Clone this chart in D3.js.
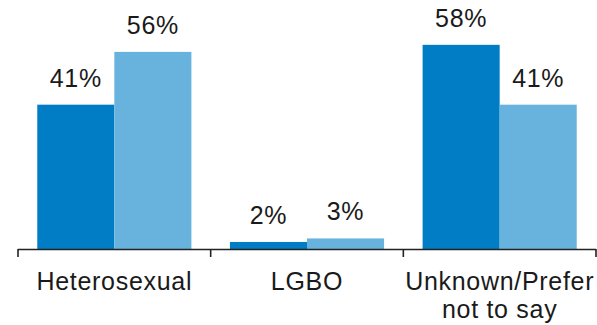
<!DOCTYPE html>
<html>
<head>
<meta charset="utf-8">
<script src="https://cdn.jsdelivr.net/npm/d3@7"></script>
<style>
   body { margin: 0; background: #fff; }
   text { font-family: "Liberation Sans", Arial, sans-serif; fill: #1a1a1a; }
</style>
</head>
<body>
<div id="chartDiv"></div>
<script>
//----------------------------------------------------------------------------------------------------
var categories = [["Heterosexual"], ["LGBO"], ["Unknown/Prefer", "not to say"]];
var seriesNames = ["dark", "light"];
var darkValues  = [41, 2, 58];
var lightValues = [56, 3, 41];
var seriesColors = ["#017DC6", "#67B3DE"];
//----------------------------------------------------------------------------------------------------
function drawChart()
{
   var width = 597, height = 325;
   var axisY = 249;
   var left = 18, right = 596;

   var svg = d3.select("#chartDiv")
      .append("svg")
      .attr("width", width)
      .attr("height", height);

   var keys = categories.map(function(c){ return c.join(" "); });

   var xScale = d3.scaleBand()
      .domain(keys)
      .range([left, right])
      .paddingInner(0.2)
      .paddingOuter(0.1);

   var xInner = d3.scaleBand()
      .domain(seriesNames)
      .range([0, xScale.bandwidth()]);

   var yScale = d3.scaleLinear()
      .domain([0, 100])
      .range([axisY, axisY - 352]);

   var data = [];
   for(var i=0; i < keys.length; i++){
      data.push({cat: keys[i], series: "dark", value: darkValues[i]});
      data.push({cat: keys[i], series: "light", value: lightValues[i]});
      }

   var color = d3.scaleOrdinal().domain(seriesNames).range(seriesColors);

   svg.selectAll("rect.bar")
      .data(data)
      .enter()
      .append("rect")
      .attr("class", "bar")
      .attr("x", function(d){ return xScale(d.cat) + xInner(d.series); })
      .attr("y", function(d){ return yScale(d.value); })
      .attr("width", xInner.bandwidth())
      .attr("height", function(d){ return axisY - yScale(d.value); })
      .style("fill", function(d){ return color(d.series); });

   svg.selectAll("text.value")
      .data(data)
      .enter()
      .append("text")
      .attr("class", "value")
      .attr("x", function(d){ return xScale(d.cat) + xInner(d.series) + xInner.bandwidth()/2; })
      .attr("y", function(d){ return yScale(d.value) - 18; })
      .attr("text-anchor", "middle")
      .style("font-size", "25px")
      .style("letter-spacing", "0.7px")
      .text(function(d){ return d.value + "%"; });

      // axis line with ticks at the category boundaries
   var step = xScale.step();
   var boundaries = [left, left + step, left + 2*step, right];

   svg.append("line")
      .attr("x1", left).attr("x2", right)
      .attr("y1", axisY + 0.5).attr("y2", axisY + 0.5)
      .style("stroke", "#222")
      .style("stroke-width", 1.6);

   svg.selectAll("line.tick")
      .data(boundaries)
      .enter()
      .append("line")
      .attr("class", "tick")
      .attr("x1", function(d){ return d; })
      .attr("x2", function(d){ return d; })
      .attr("y1", axisY)
      .attr("y2", axisY + 8)
      .style("stroke", "#222")
      .style("stroke-width", 1.6);

   var labels = svg.selectAll("text.cat")
      .data(categories)
      .enter()
      .append("text")
      .attr("class", "cat")
      .attr("text-anchor", "middle")
      .style("font-size", "25px")
      .style("letter-spacing", "0.7px");

   labels.each(function(lines, i){
      var cx = xScale(keys[i]) + xScale.bandwidth()/2;
      d3.select(this).selectAll("tspan")
         .data(lines)
         .enter()
         .append("tspan")
         .attr("x", cx)
         .attr("y", function(d, j){ return 290 + j*28; })
         .text(function(d){ return d; });
      });

} // drawChart
//----------------------------------------------------------------------------------------------------
drawChart();
</script>
</body>
</html>
